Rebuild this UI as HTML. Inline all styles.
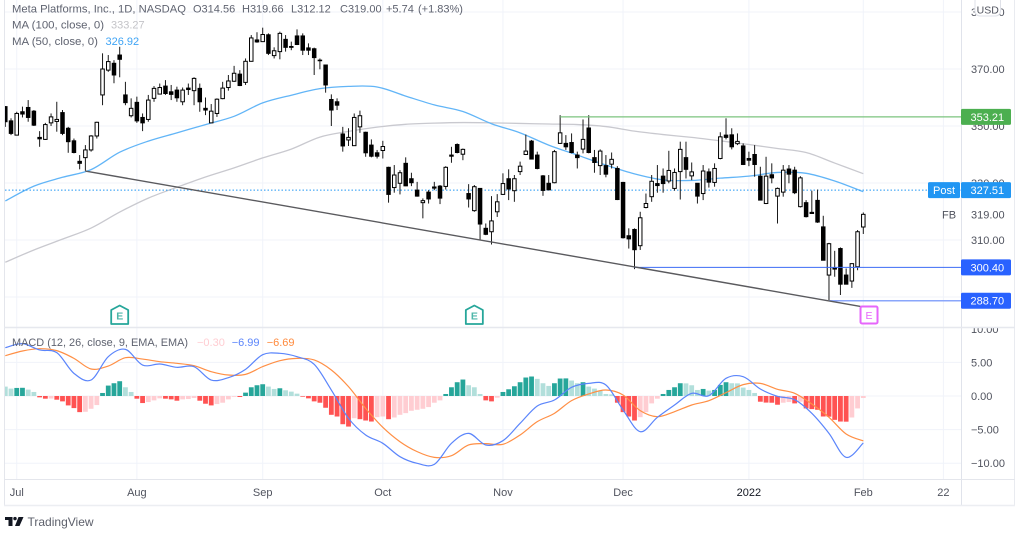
<!DOCTYPE html>
<html lang="en">
<head>
<meta charset="utf-8">
<title>Meta Platforms, Inc. chart</title>
<style>
html,body{margin:0;padding:0;background:#fff;width:1024px;height:539px;overflow:hidden}
svg{display:block;font-family:"Liberation Sans",sans-serif;filter:blur(0.35px)}
</style>
</head>
<body>
<svg id="chart" width="1024" height="539" viewBox="0 0 1024 539" xmlns="http://www.w3.org/2000/svg">
  <defs>
    <clipPath id="paneClip"><rect x="5" y="0" width="956" height="328"/></clipPath>
    <clipPath id="macdClip"><rect x="5" y="329" width="956" height="150"/></clipPath>
    <clipPath id="macdAxisClip"><rect x="962" y="328" width="52" height="151"/></clipPath>
  </defs>
  <rect x="0" y="0" width="1024" height="539" fill="#ffffff"/>
  <g id="grid"></g>
  <g id="macdPane" clip-path="url(#macdClip)"></g>
  <g id="pricePane" clip-path="url(#paneClip)"></g>
  <g id="axisLabels"></g>
  <g id="macdAxisLabels" clip-path="url(#macdAxisClip)"></g>
  <g id="frame" fill="none">
    <line x1="4.5" y1="0" x2="4.5" y2="505" stroke="#e4e6ec"/>
    <line x1="961.5" y1="0" x2="961.5" y2="505" stroke="#e0e3eb"/>
    <line x1="1014.5" y1="0" x2="1014.5" y2="505" stroke="#e9ebf0"/>
    <line x1="4" y1="327.5" x2="1015" y2="327.5" stroke="#e6e8ee" stroke-width="1.5"/>
    <line x1="4" y1="479.5" x2="1015" y2="479.5" stroke="#e4e6ec"/>
    <line x1="4" y1="505.5" x2="1015" y2="505.5" stroke="#eceef2" stroke-width="1.5"/>
  </g>
  <g id="tags"></g>
  <g>
    <rect x="975" y="-4" width="25.5" height="20" rx="5" fill="#ffffff" stroke="#dfe1e8"/>
    <text x="987.7" y="13.5" font-size="10.5" fill="#50535e" text-anchor="middle">USD</text>
  </g>
  <g font-size="11" fill="#5f6370">
    <text x="12" y="12.5" textLength="174" lengthAdjust="spacingAndGlyphs">Meta Platforms, Inc., 1D, NASDAQ</text>
    <text x="193" y="12.5">O314.56</text>
    <text x="242" y="12.5">H319.66</text>
    <text x="291" y="12.5">L312.12</text>
    <text x="340" y="12.5">C319.00</text>
    <text x="386" y="12.5">+5.74</text>
    <text x="418" y="12.5">(+1.83%)</text>
    <text x="12" y="28.5" textLength="92" lengthAdjust="spacingAndGlyphs">MA (100, close, 0)</text>
    <text x="111" y="28.5" fill="#c4c4c8">333.27</text>
    <text x="12" y="45" textLength="86" lengthAdjust="spacingAndGlyphs">MA (50, close, 0)</text>
    <text x="105.5" y="45" fill="#3fa4f5">326.92</text>
    <text x="12" y="346" textLength="176" lengthAdjust="spacingAndGlyphs">MACD (12, 26, close, 9, EMA, EMA)</text>
    <text x="197" y="346" fill="#ffcdd2">−0.30</text>
    <text x="231.7" y="346" fill="#5b85fb">−6.99</text>
    <text x="266.7" y="346" fill="#ff8a3d">−6.69</text>
  </g>
  <g>
    <path d="M5 517H12.5V526H8.5V520H5Z M18.5 517H23.5L19.5 526H15Z" fill="#131722"/>
    <circle cx="15" cy="518.6" r="1.7" fill="#131722"/>
    <text x="27.5" y="526" font-size="12" fill="#5d606b">TradingView</text>
  </g>
</svg>
<script>
const opens = [
356.8,351.8,346.8,355.0,356.5,355.2,346.0,345.3,351.1,351.6,
354.7,349.2,344.8,337.6,338.9,341.6,346.5,360.9,369.6,372.0,
374.9,360.9,353.6,358.3,353.0,352.3,359.7,361.2,364.0,362.0,
362.6,358.5,363.3,362.4,363.2,356.2,351.1,354.4,359.6,363.5,
365.7,368.2,365.3,372.7,380.2,379.6,382.0,374.7,376.1,380.4,
377.9,381.6,381.6,377.4,377.1,373.1,371.4,359.3,358.5,347.2,
345.1,343.1,349.7,347.8,343.3,340.6,341.4,335.5,328.4,329.9,
336.9,331.5,327.5,323.1,326.8,328.6,328.9,328.8,339.8,343.5,
340.1,326.3,320.3,328.1,314.1,312.9,319.9,326.0,331.5,327.3,
334.0,340.0,344.7,339.8,332.5,329.9,330.1,343.9,343.9,344.2,
339.8,341.9,349.3,338.9,336.1,336.1,336.6,335.1,330.2,311.5,
313.7,308.0,321.4,325.2,329.8,332.4,330.7,328.1,334.0,338.9,
332.5,329.9,326.3,333.9,330.2,338.6,346.8,346.9,343.8,343.0,
338.6,340.0,332.4,322.8,332.9,325.4,326.8,334.9,334.5,321.7,
323.1,319.7,323.9,314.6,297.7,300.2,307.0,297.7,295.6,300.6,
314.56];
const highs = [
357.0,352.7,355.0,356.8,359.1,355.6,348.2,351.1,354.4,358.5,
355.6,349.7,345.6,339.8,343.3,346.8,351.5,375.5,374.9,373.1,
377.8,365.5,359.7,360.3,354.4,360.9,364.0,364.9,366.1,364.4,
363.8,363.5,364.9,367.1,364.9,360.0,357.7,359.7,365.5,367.9,
371.1,369.6,373.7,381.9,382.9,384.5,382.5,377.6,383.1,381.9,
379.6,383.9,382.5,379.0,377.5,373.7,371.4,361.1,359.7,349.7,
349.2,354.4,355.4,348.0,345.3,341.6,344.8,335.7,336.3,334.5,
339.0,333.6,330.4,324.6,327.5,330.4,329.3,335.9,342.7,343.9,
342.1,329.6,329.3,328.1,315.8,325.4,326.1,333.4,334.8,332.8,
337.5,347.0,345.1,341.0,332.8,332.8,341.6,353.8,346.8,347.4,
341.0,352.3,353.8,341.6,341.8,339.8,340.7,335.9,330.4,314.1,
314.1,319.9,326.3,332.8,336.3,335.1,341.3,335.1,344.5,344.5,
337.2,329.9,336.3,335.1,336.9,347.8,352.7,349.2,347.4,343.9,
341.0,343.3,335.7,339.2,336.9,328.4,336.3,336.3,335.7,332.4,
324.0,327.3,327.7,318.5,309.0,306.2,307.4,300.0,301.8,313.5,
319.66];
const lows = [
349.7,346.8,346.8,353.0,351.5,350.0,342.7,345.1,350.0,348.0,
346.8,340.6,340.4,334.8,334.3,341.0,345.6,357.3,369.0,365.0,
367.1,357.3,353.0,351.1,348.2,351.5,358.5,361.2,360.9,359.1,
358.5,357.3,360.9,357.3,355.0,353.8,351.1,353.2,359.4,362.4,
365.5,364.0,364.4,372.6,379.2,379.6,374.9,373.7,373.4,376.1,
376.6,378.4,374.9,374.9,367.9,369.9,361.7,350.0,355.6,341.0,
343.0,343.0,347.6,339.2,339.0,338.6,338.6,323.1,326.6,326.0,
328.9,328.9,325.2,317.6,322.8,327.5,322.6,327.7,337.1,340.4,
338.0,321.4,319.9,310.0,311.7,308.4,318.1,325.8,324.0,323.4,
332.8,339.8,338.3,334.8,325.5,327.5,329.9,343.7,341.6,340.4,
335.1,340.4,340.4,333.6,332.8,332.0,335.1,324.0,310.5,307.0,
299.8,306.5,321.1,323.4,326.6,326.6,329.9,327.3,324.2,331.6,
331.0,322.8,324.0,328.4,328.7,338.3,345.3,341.8,343.3,336.3,
335.9,332.2,324.0,322.6,329.9,315.8,325.2,329.9,326.1,321.4,
317.9,319.3,316.0,302.9,288.9,297.1,290.7,294.4,293.2,299.4,
312.12];
const closes = [
351.5,347.4,354.4,354.2,353.0,350.3,345.5,350.5,353.2,352.3,
347.4,344.5,340.7,336.9,341.6,346.5,351.3,370.0,372.6,367.9,
373.4,358.2,356.2,351.8,351.1,359.1,363.2,363.5,361.4,361.1,
359.9,362.6,362.8,366.7,358.5,355.6,355.2,359.4,363.3,365.8,
368.5,364.2,372.7,380.9,379.5,382.1,375.5,376.4,382.5,377.6,
377.6,378.6,376.6,376.6,374.0,372.9,364.4,355.6,357.3,343.0,
346.0,353.0,353.6,340.6,339.4,339.4,342.8,326.0,332.8,333.6,
329.0,330.1,325.4,323.8,324.4,328.2,324.7,335.5,339.4,340.7,
341.8,324.4,328.7,315.6,312.0,316.7,323.4,329.8,327.9,331.5,
335.9,341.2,338.4,335.1,327.4,327.6,341.0,347.6,342.7,340.7,
338.9,345.3,340.7,337.2,341.2,333.1,338.3,324.2,310.8,310.4,
306.6,317.8,322.8,330.6,329.1,329.8,334.4,333.7,341.8,334.8,
333.9,325.4,334.2,330.3,335.1,346.2,346.0,342.7,344.6,336.5,
338.0,336.5,324.0,332.4,331.8,328.1,334.5,333.1,326.6,331.8,
318.2,319.3,316.3,302.9,308.7,299.8,294.5,294.5,301.7,312.9,
319.0];
/* moving averages: one reading every 5 bars */
const ma50Values = [323.7,328.9,332.0,334.7,340.8,344.7,347.6,350.5,353.4,358.1,360.8,363.1,363.9,363.7,360.5,357.4,355.1,350.8,347.6,343.3,339.8,336.3,333.2,331.1,330.9,331.7,332.4,333.7,333.4,330.7,326.92];
const ma100Values = [302.2,306.5,310.3,314.2,319.8,324.7,328.5,332.1,335.3,338.8,341.9,346.1,348.1,349.6,350.6,351.0,351.2,351.1,350.9,350.7,350.5,349.8,348.2,347.0,346.0,344.8,343.5,342.1,340.7,337.0,333.27];
/* MACD lines: one reading every 3 bars */
const macdValues = [7.19,7.79,6.85,6.45,3.37,2.38,5.85,6.94,4.61,4.76,4.27,4.37,2.38,2.73,3.97,6.15,6.35,5.85,4.71,0.89,
-3.32,-5.8,-7.04,-9.03,-10.02,-10.17,-7.04,-5.56,-7.29,-6.65,-4.07,-1.49,-0.6,1.29,1.88,1.64,-2.08,-5.31,-3.17,-1.34,
0.4,0.05,2.63,2.88,1.04,-0.05,-0.55,-2.58,-5.56,-9.13,-6.99];
const signalValues = [6.0,6.7,7.04,6.75,5.6,4.02,4.46,5.7,5.5,5.11,4.86,4.51,3.62,3.12,3.22,4.37,5.26,5.6,5.36,3.87,
1.39,-1.84,-4.66,-6.8,-8.28,-9.13,-8.88,-7.29,-7.09,-7.19,-5.8,-3.82,-2.58,-0.69,0.3,0.89,0.15,-2.18,-3.08,-2.33,
-1.34,-0.69,0.5,1.69,1.88,0.99,0.4,-1.19,-3.17,-5.65,-6.69];
const histValues = [
1.4,1.1,1.2,1.22,.95,.6,-.2,-.4,-.38,-.55,
-.8,-1.4,-1.8,-2.4,-2.35,-1.9,-1.35,.45,1.55,1.9,
2.2,1.3,.6,-.4,-1.05,-.9,-.65,-.35,-.4,-.5,
-.7,-.5,-.45,-.3,-.7,-1.15,-1.4,-1.2,-1.0,-.5,
-.12,-.15,.5,1.3,1.6,1.75,1.4,1.05,1.15,.85,
.65,.35,-.1,-.35,-.8,-1.0,-1.75,-2.8,-3.05,-4.2,
-4.55,-3.3,-3.45,-3.65,-3.8,-3.15,-3.05,-3.45,-3.2,-2.8,
-2.55,-2.2,-2.05,-1.9,-1.65,-1.0,-.65,.3,1.3,2.05,
2.45,1.6,1.3,.3,-.65,-.8,-.25,.6,1.0,1.45,
2.05,2.75,2.9,2.55,1.9,1.5,1.9,2.6,2.62,2.3,
1.9,2.05,1.4,1.1,.75,.3,.25,-1.0,-2.4,-3.05,
-3.65,-3.15,-2.4,-1.1,-.4,.3,.9,1.3,1.9,1.88,
1.6,.9,1.05,.8,.9,1.65,2.05,1.9,1.88,1.25,
.9,.45,-.85,-.98,-1.0,-1.3,-1.0,-.9,-1.1,-.85,
-1.85,-1.95,-2.05,-3.05,-3.08,-3.55,-3.8,-3.82,-3.2,-1.85,
-.3];
const timeTickBars = [2,23,45,66,87,108,130,150,164];
const timeTickLabels = ['Jul','Aug','Sep','Oct','Nov','Dec','2022','Feb','22'];
const priceTicks = [390,370,350,330,310,290];
const priceTickLabels = ['390.00','370.00','350.00','330.00','310.00','290.00'];
const macdTicks = [10,5,0,-5,-10];
const macdTickLabels = ['10.00','5.00','0.00','−5.00','−10.00'];
const earningsBars = [20,82];
const upcomingEarningsBar = 151;
const resistanceLevel = 353.21;
const resistanceStartBar = 97;
const supportLevel = 300.40;
const supportStartBar = 110;
const lowLevel = 288.70;
const lowStartBar = 144;
const postPrice = 327.51;
const lastPrice = 319.00;
const trendBars = [14,149.5];
const trendPrices = [334.2,286.7];

const NS = 'http://www.w3.org/2000/svg';
function barX(i){ return 5.3 + 5.72 * i; }
function priceY(p){ return 69 + (370 - p) * 2.85; }
function macdY(v){ return 396 - v * 6.72; }
function mk(tag, attrs, parent, text){
  const n = document.createElementNS(NS, tag);
  for (const k in attrs) n.setAttribute(k, attrs[k]);
  if (text !== undefined) n.textContent = text;
  parent.appendChild(n);
  return n;
}
/* smooth curve through the readings (Catmull-Rom) */
function smoothPath(values, step, yFn){
  const pts = values.map(function(v, k){ return [barX(k * step), yFn(v)]; });
  let d = 'M' + pts[0][0].toFixed(2) + ' ' + pts[0][1].toFixed(2);
  for (let k = 0; k < pts.length - 1; k++) {
    const p0 = pts[Math.max(k - 1, 0)], p1 = pts[k], p2 = pts[k + 1], p3 = pts[Math.min(k + 2, pts.length - 1)];
    const c1x = p1[0] + (p2[0] - p0[0]) / 6, c1y = p1[1] + (p2[1] - p0[1]) / 6;
    const c2x = p2[0] - (p3[0] - p1[0]) / 6, c2y = p2[1] - (p3[1] - p1[1]) / 6;
    d += 'C' + c1x.toFixed(2) + ' ' + c1y.toFixed(2) + ' ' + c2x.toFixed(2) + ' ' + c2y.toFixed(2) + ' ' + p2[0].toFixed(2) + ' ' + p2[1].toFixed(2);
  }
  return d;
}

const grid = document.getElementById('grid');
const pricePane = document.getElementById('pricePane');
const macdPane = document.getElementById('macdPane');
const axisLabels = document.getElementById('axisLabels');
const macdAxisLabels = document.getElementById('macdAxisLabels');
const tags = document.getElementById('tags');

/* grid */
timeTickBars.forEach(function(b){
  const el = mk('line', {x1: barX(b), x2: barX(b), y1: 0, y2: 479, stroke: '#f0f3fa'}, grid);
  
  
});
priceTicks.forEach(function(p){
  const el = mk('line', {x1: 5, x2: 961, y1: priceY(p), y2: priceY(p), stroke: '#f0f3fa'}, grid);
  
  
});
macdTicks.slice(1).forEach(function(v){
  const el = mk('line', {x1: 5, x2: 961, y1: macdY(v), y2: macdY(v), stroke: '#f0f3fa'}, grid);
  
  
});

/* MACD histogram */
histValues.forEach(function(v, i){
  const prev = i > 0 ? histValues[i - 1] : v - (v >= 0 ? -1 : 1);
  let color;
  if (v >= 0) { color = v > prev ? '#26a69a' : '#b2dfdb'; }
  else { color = v < prev ? '#ff5252' : '#ffcdd2'; }
  const y0 = macdY(0), y1 = macdY(v);
  const el = mk('rect', {x: barX(i) - 2.4, y: Math.min(y0, y1), width: 4.8, height: Math.abs(y1 - y0), fill: color}, macdPane);
  
  
});
const signalLine = mk('path', {d: smoothPath(signalValues, 3, macdY), fill: 'none', stroke: '#ff8f45', 'stroke-width': 1.2}, macdPane);


const macdLine = mk('path', {d: smoothPath(macdValues, 3, macdY), fill: 'none', stroke: '#5b85fb', 'stroke-width': 1.2}, macdPane);



/* moving averages + drawings under candles */
const ma100Line = mk('path', {d: smoothPath(ma100Values, 5, priceY), fill: 'none', stroke: '#c9c9cf', 'stroke-width': 1.3}, pricePane);


const ma50Line = mk('path', {d: smoothPath(ma50Values, 5, priceY), fill: 'none', stroke: '#62b5f7', 'stroke-width': 1.3}, pricePane);


const postLine = mk('line', {x1: 5, x2: 961, y1: priceY(postPrice), y2: priceY(postPrice), stroke: '#2196f3', 'stroke-width': 1, 'stroke-dasharray': '1.5 2'}, pricePane);



/* candles */
closes.forEach(function(c, i){
  const o = opens[i], x = barX(i);
  const up = c >= o;
  const wick = mk('line', {x1: x, x2: x, y1: priceY(highs[i]), y2: priceY(lows[i]), stroke: '#1a1a1a', 'stroke-width': 1}, pricePane);
  
  
  const top = priceY(Math.max(o, c)), bot = priceY(Math.min(o, c));
  const body = mk('rect', {x: x - 1.75, y: top, width: 3.5, height: Math.max(bot - top, 0.5), fill: up ? '#ffffff' : '#000000', stroke: '#000000', 'stroke-width': 1}, pricePane);
  
  
});

/* drawings over candles */
const resistance = mk('line', {x1: barX(resistanceStartBar), x2: 961, y1: priceY(resistanceLevel), y2: priceY(resistanceLevel), stroke: '#7cc47f', 'stroke-width': 1.2}, pricePane);


const support = mk('line', {x1: barX(supportStartBar), x2: 961, y1: priceY(supportLevel), y2: priceY(supportLevel), stroke: '#3b6cf5', 'stroke-width': 1}, pricePane);


const lowLine = mk('line', {x1: barX(lowStartBar), x2: 961, y1: priceY(lowLevel), y2: priceY(lowLevel), stroke: '#8aa6fb', 'stroke-width': 1.5}, pricePane);


const trend = mk('line', {x1: barX(trendBars[0]), x2: barX(trendBars[1]), y1: priceY(trendPrices[0]), y2: priceY(trendPrices[1]), stroke: '#5a5a5e', 'stroke-width': 1.4}, pricePane);



/* earnings markers */
earningsBars.forEach(function(b){
  const c = barX(b);
  const mark = mk('path', {d: 'M' + c + ' 305.5L' + (c + 8.5) + ' 310V324H' + (c - 8.5) + 'V310Z', fill: '#ffffff', stroke: '#26a69a', 'stroke-width': 1.8, 'stroke-linejoin': 'round'}, pricePane);
  
  
  const label = mk('text', {x: c, y: 319.5, 'font-size': 10.5, 'font-weight': 'bold', fill: '#4db6a9', 'text-anchor': 'middle'}, pricePane, 'E');
  
  
});
const nextE = barX(upcomingEarningsBar);
const nextMark = mk('rect', {x: nextE - 8.5, y: 306.5, width: 17, height: 17, rx: 1.5, fill: '#ffffff', stroke: '#e666fb', 'stroke-width': 2}, pricePane);


const nextLabel = mk('text', {x: nextE, y: 319, 'font-size': 10.5, fill: '#e666fb', 'text-anchor': 'middle'}, pricePane, 'E');



/* axis labels */
timeTickBars.forEach(function(b, i){
  const el = mk('text', {x: barX(b), y: 496, 'font-size': 11, fill: timeTickLabels[i] === '2022' ? '#131722' : '#50535e', 'text-anchor': 'middle'}, axisLabels, timeTickLabels[i]);
  
  
});
priceTicks.forEach(function(p, i){
  const el = mk('text', {x: 971, y: priceY(p) + 4, 'font-size': 11, fill: '#50535e'}, axisLabels, priceTickLabels[i]);
  
  
});
macdTicks.forEach(function(v, i){
  const el = mk('text', {x: 971, y: macdY(v) + 4, 'font-size': 11, fill: '#50535e'}, macdAxisLabels, macdTickLabels[i]);
  
  
});
const lastLabel = mk('text', {x: 971, y: priceY(lastPrice) + 4, 'font-size': 11, fill: '#50535e'}, axisLabels, lastPrice.toFixed(2));


const symbolLabel = mk('text', {x: 942, y: priceY(lastPrice) + 4, 'font-size': 11, fill: '#50535e'}, axisLabels, 'FB');



/* price tags */
function tagY(p){ return priceY(p) - 8; }
const greenBg = mk('rect', {x: 961, y: tagY(resistanceLevel), width: 50, height: 16, rx: 1.5, fill: '#4caf50'}, tags);


const greenText = mk('text', {x: 970.5, y: priceY(resistanceLevel) + 4, 'font-size': 11, fill: '#ffffff'}, tags, resistanceLevel.toFixed(2));


const postBg = mk('rect', {x: 961, y: tagY(postPrice), width: 50, height: 16, rx: 1.5, fill: '#2196f3'}, tags);


const postText = mk('text', {x: 970.5, y: priceY(postPrice) + 4, 'font-size': 11, fill: '#ffffff'}, tags, postPrice.toFixed(2));


const postName = mk('rect', {x: 928, y: tagY(postPrice), width: 32, height: 16, rx: 1.5, fill: '#2196f3'}, tags);


const postNameText = mk('text', {x: 944, y: priceY(postPrice) + 4, 'font-size': 11, fill: '#ffffff', 'text-anchor': 'middle'}, tags, 'Post');


const supportBg = mk('rect', {x: 961, y: tagY(supportLevel), width: 50, height: 16, rx: 1.5, fill: '#2962ff'}, tags);


const supportText = mk('text', {x: 970.5, y: priceY(supportLevel) + 4, 'font-size': 11, fill: '#ffffff'}, tags, supportLevel.toFixed(2));


const lowBg = mk('rect', {x: 961, y: tagY(lowLevel), width: 50, height: 16, rx: 1.5, fill: '#2962ff'}, tags);


const lowText = mk('text', {x: 970.5, y: priceY(lowLevel) + 4, 'font-size': 11, fill: '#ffffff'}, tags, lowLevel.toFixed(2));


</script>
</body>
</html>
